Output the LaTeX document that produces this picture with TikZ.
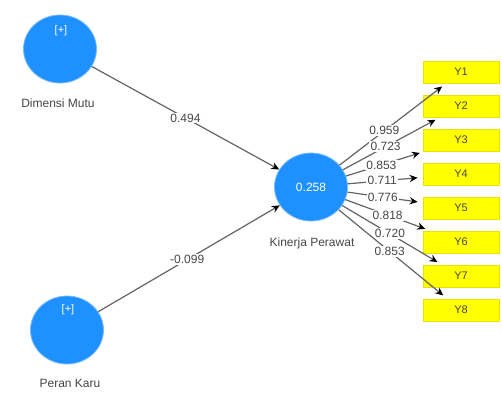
\documentclass[tikz,border=0pt]{standalone}
\usepackage{fontspec}
\setmainfont{Liberation Sans}
\usetikzlibrary{arrows.meta,shapes.geometric,calc}
\definecolor{plsblue}{RGB}{30,144,255}
\definecolor{plsyellow}{RGB}{255,255,0}
\definecolor{plsedge}{RGB}{235,225,0}
\definecolor{labgray}{RGB}{70,70,70}
\definecolor{linegray}{RGB}{100,100,100}
\begin{document}
\begin{tikzpicture}[x=0.5pt,y=-0.5pt,
  latent/.style={ellipse, fill=plsblue, draw=plsblue!60, line width=0.4pt,
    minimum width=36.5pt, minimum height=34pt, inner sep=0pt},
  indicator/.style={rectangle, fill=plsyellow, draw=plsedge, line width=0.4pt,
    minimum width=38pt, minimum height=11pt, inner sep=0pt,
    font=\fontsize{5.5}{6}\selectfont, text=labgray},
  caption/.style={font=\fontsize{6}{7}\selectfont, text=labgray},
  plus/.style={font=\fontsize{5.5}{6}\selectfont, text=white},
  coef/.style={fill=white, inner sep=0.6pt, font=\fontsize{6}{7}\selectfont, text=labgray},
  path/.style={draw=linegray, line width=0.6pt, -{Stealth[length=4pt,width=3.6pt,color=black]}},
  load/.style={draw=linegray, line width=0.6pt, shorten >=2.5pt, -{Stealth[length=4pt,width=3.6pt,color=black]}}]
\fill[white] (0,0) rectangle (502,392);
\useasboundingbox (0,0) rectangle (502,392);

% latent variables
\node[latent] (dm) at (60,49) {};
\node[latent] (pk) at (67,330) {};
\node[latent, font=\fontsize{6}{7}\selectfont, text=white] (kp) at (311,187) {0.258};

\node[plus] (dmplus) at (61,31) {[+]};
\node[plus] (pkplus) at (68,310) {[+]};

\node[caption] (dmlab) at (58,103) {Dimensi Mutu};
\node[caption] (pklab) at (70,383) {Peran Karu};
\node[caption] (kplab) at (312,243) {Kinerja Perawat};

% indicators
\node[indicator] (y1) at (461,72) {Y1};
\node[indicator] (y2) at (461,106) {Y2};
\node[indicator] (y3) at (461,140) {Y3};
\node[indicator] (y4) at (461,174) {Y4};
\node[indicator] (y5) at (461,208) {Y5};
\node[indicator] (y6) at (461,242) {Y6};
\node[indicator] (y7) at (461,276) {Y7};
\node[indicator] (y8) at (461,310) {Y8};

% structural paths
\draw[path] (dm) -- node[coef, pos=0.5] {0.494} (kp);
\draw[path] (pk) -- node[coef, pos=0.49] {-0.099} (kp);

% loadings
\draw[load] (kp) -- node[coef, pos=0.42] {0.959} (y1);
\draw[load] (kp) -- node[coef, pos=0.44] {0.723} (y2);
\draw[load] (kp) -- node[coef, pos=0.45] {0.853} (y3);
\draw[load] (kp) -- node[coef, pos=0.46] {0.711} (y4);
\draw[load] (kp) -- node[coef, pos=0.47] {0.776} (y5);
\draw[load] (kp) -- node[coef, pos=0.50] {0.818} (y6);
\draw[load] (kp) -- node[coef, pos=0.48] {0.720} (y7);
\draw[load] (kp) -- node[coef, pos=0.47] {0.853} (y8);
\end{tikzpicture}
\end{document}
